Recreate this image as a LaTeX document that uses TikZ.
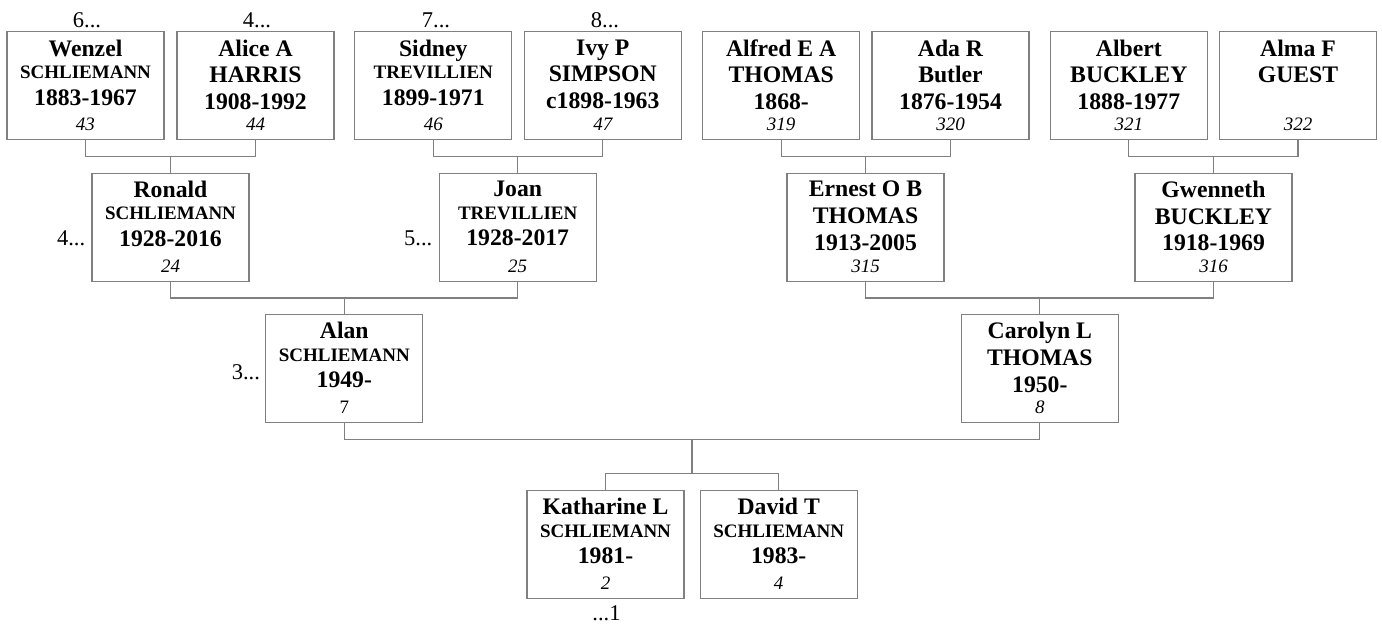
\documentclass[tikz,border=0pt]{standalone}
\usepackage{fontspec}
\setmainfont{Liberation Serif}
\usetikzlibrary{calc}
\usetikzlibrary{positioning}
\definecolor{boxgray}{RGB}{128,128,128}

\newcommand{\person}[4]{%
	\parbox[c][108pt][t]{157pt}{\centering\bfseries
		\vspace*{7.8pt}%
		\fontsize{23.7}{26.7}\selectfont #1\par
		#2\par
		#3\par
		\vfill
		{\mdseries\itshape\fontsize{19}{20}\selectfont #4\par}%
		\vspace{9pt}}}
\newcommand{\sname}[1]{{\fontsize{19}{22.5}\selectfont #1\par}}

\begin{document}
\begin{tikzpicture}[x=1pt, y=-1pt]
	\useasboundingbox (0,0) rectangle (1382,625);
	\begin{scope}[every node/.style={rectangle, draw=boxgray, line width=1.3pt, inner sep=0pt}]
		\node (wenzel) at (85.5,85.8) {\person{Wenzel}{\sname{SCHLIEMANN}}{1883-1967}{43}};
		\node (alice) at (255.5,85.8) {\person{Alice A}{HARRIS}{1908-1992}{44}};
		\node (sidney) at (433.3,85.8) {\person{Sidney}{\sname{TREVILLIEN}}{1899-1971}{46}};
		\node (ivy) at (602.8,85.8) {\person{Ivy P}{SIMPSON}{c1898-1963}{47}};
		\node (alfred) at (781.2,85.8) {\person{Alfred E A}{THOMAS}{1868-}{319}};
		\node (ada) at (950.5,85.8) {\person{Ada R}{Butler}{1876-1954}{320}};
		\node (albert) at (1128.8,85.8) {\person{Albert}{BUCKLEY}{1888-1977}{321}};
		\node (alma) at (1298,85.8) {\person{Alma F}{GUEST}{}{322}};

		\node (ronald) at (170.5,227.2) {\person{Ronald}{\sname{SCHLIEMANN}}{1928-2016}{24}};
		\node (joan) at (517.7,227.2) {\person{Joan}{\sname{TREVILLIEN}}{1928-2017}{25}};
		\node (ernest) at (865.5,227.2) {\person{Ernest O B}{THOMAS}{1913-2005}{315}};
		\node (gwenneth) at (1213.5,227.2) {\person{Gwenneth}{BUCKLEY}{1918-1969}{316}};

		\node (alan) at (344.3,368.5) {\person{Alan}{\sname{SCHLIEMANN}}{1949-}{\upshape 7}};
		\node (carolyn) at (1039.8,368.5) {\person{Carolyn L}{THOMAS}{1950-}{8}};

		\node (katharine) at (605.5,544.5) {\person{Katharine L}{\sname{SCHLIEMANN}}{1981-}{2}};
		\node (david) at (778.7,544.5) {\person{David T}{\sname{SCHLIEMANN}}{1983-}{4}};
	\end{scope}

	\begin{scope}[every node/.style={inner sep=0pt, font=\fontsize{22.5}{24}\selectfont}]
		\node[anchor=base] (up6) at ([xshift=1.5pt,yshift=3.4pt]wenzel.north) {6...};
		\node[anchor=base] (up4) at ([xshift=1.5pt,yshift=3.4pt]alice.north) {4...};
		\node[anchor=base] (up7) at ([xshift=2.7pt,yshift=3.4pt]sidney.north) {7...};
		\node[anchor=base] (up8) at ([xshift=2.2pt,yshift=3.4pt]ivy.north) {8...};
		\node[anchor=base east] (left4) at ([xshift=-6pt,yshift=-17.8pt]ronald.west) {4...};
		\node[anchor=base east] (left5) at ([xshift=-6pt,yshift=-17.8pt]joan.west) {5...};
		\node[anchor=base east] (left3) at ([xshift=-5pt,yshift=-10.5pt]alan.west) {3...};
		\node[anchor=base] (down1) at ([xshift=1pt,yshift=-21pt]katharine.south) {...1};
	\end{scope}

	\begin{scope}[color=boxgray, line width=1.3pt]
		\draw (wenzel.south) -- ++(0,16) -| (alice.south);
		\draw (ronald.north) -- ++(0,-16.7);
		\draw (sidney.south) -- ++(0,16) -| (ivy.south);
		\draw (joan.north) -- ++(0,-16.7);
		\draw (alfred.south) -- ++(0,16) -| (ada.south);
		\draw (ernest.north) -- ++(0,-16.7);
		\draw (albert.south) -- ++(0,16) -| (alma.south);
		\draw (gwenneth.north) -- ++(0,-16.7);

		\draw (ronald.south) -- ++(0,16) -| (joan.south);
		\draw (alan.north) -- ++(0,-16.3);
		\draw (ernest.south) -- ++(0,16) -| (gwenneth.south);
		\draw (carolyn.north) -- ++(0,-16.3);

		\draw (alan.south) -- ++(0,16) -| (carolyn.south);
		\coordinate (kids) at ($(alan.south)!.5!(carolyn.south)$);
		\draw ([yshift=-16pt]kids) -- ([yshift=-50pt]kids);
		\draw (katharine.north) |- ([yshift=-50pt]kids) -| (david.north);
	\end{scope}
\end{tikzpicture}
\end{document}
